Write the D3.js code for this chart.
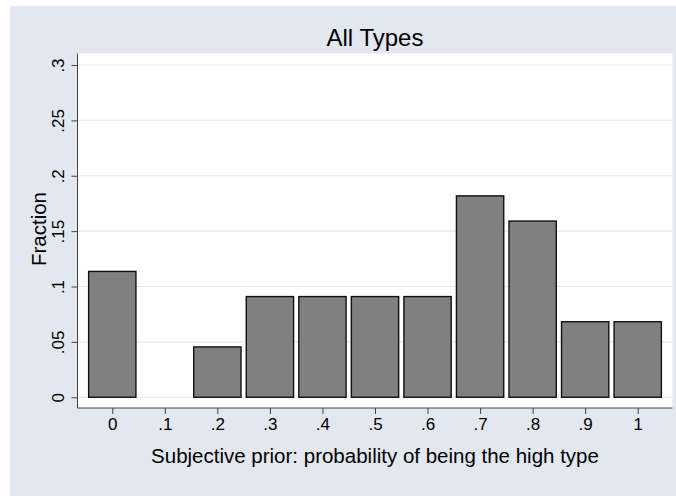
<!DOCTYPE html>
<html>
<head>
<meta charset="utf-8">
<script src="https://cdn.jsdelivr.net/npm/d3@7"></script>
<style>
  body { margin: 0; background: #fff; }
  text { font-family: "Liberation Sans", Arial, sans-serif; fill: #000; }
</style>
</head>
<body>
<div id="chart"></div>
<script>
// bin centres and fractions (counts out of 44)
var bins      = [0, 0.1, 0.2, 0.3, 0.4, 0.5, 0.6, 0.7, 0.8, 0.9, 1];
var fractions = [5/44, 0, 2/44, 4/44, 4/44, 4/44, 4/44, 8/44, 7/44, 3/44, 3/44];
var xTicks    = [0, 0.1, 0.2, 0.3, 0.4, 0.5, 0.6, 0.7, 0.8, 0.9, 1];
var xLabels   = ["0", ".1", ".2", ".3", ".4", ".5", ".6", ".7", ".8", ".9", "1"];
var yTicks    = [0, 0.05, 0.1, 0.15, 0.2, 0.25, 0.3];
var yLabels   = ["0", ".05", ".1", ".15", ".2", ".25", ".3"];

var data = bins.map(function(b, i) {
    return { bin: b, fraction: fractions[i] };
}).filter(function(d) { return d.fraction > 0; });

var width  = 676;
var height = 496;
var plot = { left: 77.5, right: 672.5, top: 53.5, bottom: 408 };
var barWidth = 0.09;

var svg = d3.select("#chart")
    .append("svg")
    .attr("width", width)
    .attr("height", height);

// graph region background
svg.append("rect")
    .attr("x", 10)
    .attr("y", 6)
    .attr("width", width - 10)
    .attr("height", height - 6)
    .attr("fill", "#e2e7f0");

// plot region
svg.append("rect")
    .attr("x", plot.left)
    .attr("y", plot.top)
    .attr("width", plot.right - plot.left)
    .attr("height", plot.bottom - plot.top)
    .attr("fill", "#ffffff");

var x = d3.scaleLinear()
    .domain([-0.0662, 1.0662])
    .range([plot.left, plot.right]);

var y = d3.scaleLinear()
    .domain([-0.0097, 0.3104])
    .range([plot.bottom, plot.top]);

// grid lines
svg.append("g")
    .selectAll("line")
    .data(yTicks)
    .enter()
    .append("line")
    .attr("x1", plot.left)
    .attr("x2", plot.right)
    .attr("y1", function(d) { return y(d); })
    .attr("y2", function(d) { return y(d); })
    .attr("stroke", "#e4e9f2")
    .attr("stroke-width", 1.2);

// bars
svg.append("g")
    .selectAll("rect")
    .data(data)
    .enter()
    .append("rect")
    .attr("x", function(d) { return x(d.bin - barWidth / 2); })
    .attr("width", x(barWidth) - x(0))
    .attr("y", function(d) { return y(d.fraction); })
    .attr("height", function(d) { return y(0) - y(d.fraction); })
    .attr("fill", "#808080")
    .attr("stroke", "#111")
    .attr("stroke-width", 1.4);

// x axis
var xAxis = d3.axisBottom(x)
    .tickValues(xTicks)
    .tickSize(6)
    .tickPadding(4)
    .tickFormat(function(d, i) { return xLabels[i]; });

svg.append("g")
    .attr("transform", "translate(0," + plot.bottom + ")")
    .call(xAxis)
    .call(function(g) { g.select(".domain").attr("d", "M" + plot.left + ",0H" + plot.right).attr("stroke", "#444"); })
    .call(function(g) { g.selectAll(".tick line").attr("stroke", "#444"); })
    .call(function(g) { g.selectAll(".tick text").attr("font-size", "17px").attr("font-family", "Liberation Sans, Arial, sans-serif"); });

// y axis
var yAxis = d3.axisLeft(y)
    .tickValues(yTicks)
    .tickSize(6)
    .tickPadding(4)
    .tickFormat(function(d, i) { return yLabels[i]; });

svg.append("g")
    .attr("transform", "translate(" + plot.left + ",0)")
    .call(yAxis)
    .call(function(g) { g.select(".domain").attr("d", "M0," + plot.top + "V" + plot.bottom).attr("stroke", "#444"); })
    .call(function(g) { g.selectAll(".tick line").attr("stroke", "#444"); })
    .call(function(g) {
        g.selectAll(".tick text")
            .attr("font-size", "17px")
            .attr("font-family", "Liberation Sans, Arial, sans-serif")
            .attr("x", null)
            .attr("dy", null)
            .attr("text-anchor", "middle")
            .attr("transform", "translate(-14,0) rotate(-90)");
    });

// titles
svg.append("text")
    .attr("x", (plot.left + plot.right) / 2)
    .attr("y", 46)
    .attr("text-anchor", "middle")
    .attr("font-size", "24px")
    .text("All Types");

svg.append("text")
    .attr("x", (plot.left + plot.right) / 2)
    .attr("y", 463)
    .attr("text-anchor", "middle")
    .attr("font-size", "20.5px")
    .text("Subjective prior: probability of being the high type");

svg.append("text")
    .attr("transform", "translate(45.5," + 229 + ") rotate(-90)")
    .attr("text-anchor", "middle")
    .attr("font-size", "20.5px")
    .text("Fraction");
</script>
</body>
</html>
